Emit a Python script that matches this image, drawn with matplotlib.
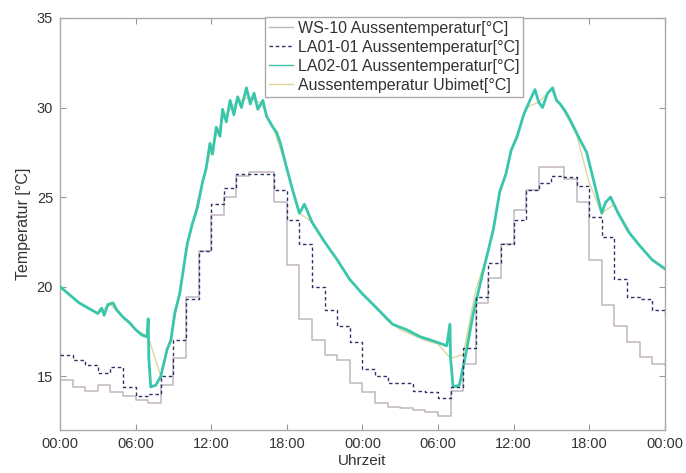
import matplotlib
matplotlib.use('Agg')
import matplotlib.pyplot as plt

# hourly step values (start of each hour, 0..48 h)
hours = list(range(49))
ws10 = [14.8, 14.4, 14.2, 14.5, 14.1, 13.9, 13.7, 13.5, 14.5, 16.0,
        19.4, 22.0, 24.0, 25.0, 26.2, 26.4, 26.4, 24.7, 21.2, 18.2,
        17.0, 16.2, 15.9, 14.6, 14.1, 13.5, 13.3, 13.2, 13.1, 13.0,
        12.8, 14.2, 15.7, 19.1, 20.5, 22.4, 24.3, 25.4, 26.7, 26.7,
        26.0, 24.7, 21.5, 19.0, 17.8, 16.9, 16.1, 15.7, 15.6]
la01 = [16.2, 15.9, 15.6, 15.2, 15.5, 14.4, 13.9, 14.0, 15.0, 17.0,
        19.3, 22.0, 24.6, 25.5, 26.3, 26.3, 26.3, 25.4, 23.7, 22.4,
        20.0, 18.7, 17.8, 16.9, 15.4, 15.0, 14.6, 14.6, 14.2, 14.1,
        13.8, 14.4, 16.6, 19.4, 21.3, 22.4, 23.7, 25.4, 25.8, 26.2,
        26.1, 25.6, 23.9, 22.8, 20.4, 19.4, 19.3, 18.7, 18.5]
ubimet = [20.0, 19.4, 18.9, 18.5, 19.0, 18.3, 17.6, 17.2, 15.0, 17.8,
          21.9, 25.0, 27.7, 29.5, 30.3, 30.6, 30.2, 28.7, 26.6, 24.1,
          23.6, 22.5, 21.5, 20.4, 19.6, 18.9, 18.1, 17.6, 17.3, 17.0,
          16.8, 16.0, 16.2, 19.8, 22.0, 25.4, 28.0, 30.0, 30.3, 31.0,
          29.8, 28.5, 25.8, 24.1, 24.6, 23.1, 22.3, 21.5, 21.0]

# LA02-01 read at irregular times (hours)
la02_t = [0, 0.5, 1, 1.5, 2, 2.5, 3, 3.3, 3.5, 3.8, 4.2, 4.5, 5, 5.5, 6, 6.5, 6.9,
          7.0, 7.05, 7.2, 7.6, 8.0, 8.5, 8.8, 9.1, 9.5, 10.1, 10.5, 10.9, 11.3,
          11.6, 11.9, 12.1, 12.4, 12.7, 12.9, 13.2, 13.5, 13.8, 14.1, 14.4, 14.8,
          15.1, 15.4, 15.7, 16.1, 16.4, 16.9, 17.2, 17.5, 18.0, 18.5, 19.0, 19.4,
          20.0, 21.0, 22.0, 23.0, 24.0, 25.0, 26.4, 27.5, 28.6, 29.5, 30.7, 30.95,
          31.0, 31.2, 31.7, 32.2, 32.8, 33.6, 34.4, 34.9, 35.4, 35.8, 36.3, 36.8,
          37.3, 37.7, 38.0, 38.3, 38.7, 39.1, 39.4, 39.7, 40.1, 40.5, 41.2, 41.8,
          42.4, 43.0, 43.3, 43.7, 44.3, 45.2, 46.0, 47.0, 48.0]
la02 = [20.0, 19.7, 19.4, 19.1, 18.9, 18.7, 18.5, 18.8, 18.4, 19.0, 19.1, 18.7,
        18.3, 18.0, 17.6, 17.3, 17.2, 18.2, 16.0, 14.4, 14.5, 15.0, 16.5, 17.0,
        18.5, 19.6, 22.4, 23.5, 24.4, 25.8, 26.6, 28.0, 27.4, 28.9, 28.4, 29.9,
        29.2, 30.4, 29.6, 30.6, 30.0, 31.1, 30.2, 30.8, 29.9, 30.4, 29.5, 28.9,
        28.6, 28.0, 26.6, 25.3, 24.1, 24.6, 23.6, 22.5, 21.5, 20.4, 19.6, 18.9,
        17.9, 17.6, 17.2, 17.0, 16.7, 17.9, 16.0, 14.4, 14.5, 16.2, 18.5, 20.9,
        23.2, 25.3, 26.3, 27.6, 28.4, 29.6, 30.4, 31.0, 30.3, 30.0, 30.8, 31.1,
        30.4, 30.2, 29.8, 29.3, 28.3, 27.5, 25.8, 24.1, 24.7, 25.0, 24.1, 23.0,
        22.3, 21.5, 21.0]

xticks = [0, 6, 12, 18, 24, 30, 36, 42, 48]
xticklabels = ['00:00', '06:00', '12:00', '18:00', '00:00', '06:00', '12:00', '18:00', '00:00']
yticks = [15, 20, 25, 30, 35]

plt.rcParams['font.family'] = ['Liberation Sans', 'DejaVu Sans']

fig = plt.figure(figsize=(6.86, 4.73), dpi=100)
ax = fig.add_axes([0.0875, 0.091, 0.8815, 0.871])

ax.plot(hours, ubimet, color='#ddd79a', linewidth=1.0, label='Aussentemperatur Ubimet[°C]', zorder=1)
ax.plot(hours, ws10, color='#c2b6c0', linewidth=1.1, drawstyle='steps-post',
        label='WS-10 Aussentemperatur[°C]', zorder=2)
ax.plot(la02_t, la02, color='#38c6ac', linewidth=2.0, label='LA02-01 Aussentemperatur[°C]', zorder=3)
ax.plot(hours, la01, color='#2e3366', linewidth=1.0, linestyle=(0, (2.5, 2)),
        drawstyle='steps-post', label='LA01-01 Aussentemperatur[°C]', zorder=4)

ax.set_xlim(0, 48)
ax.set_ylim(12, 35)
ax.set_xticks(xticks)
ax.set_xticklabels(xticklabels)
ax.set_yticks(yticks)
ax.tick_params(direction='in', top=True, right=True, length=4, color='#999999',
               labelsize=10.5, labelcolor='#333333', pad=5)
for s in ax.spines.values():
    s.set_color('#aaaaaa')
    s.set_linewidth(1.0)

ax.set_xlabel('Uhrzeit', fontsize=11, color='#333333', labelpad=2)
ax.set_ylabel('Temperatur [°C]', fontsize=11.5, color='#333333', labelpad=4)

handles, labels = ax.get_legend_handles_labels()
order = [1, 3, 2, 0]
leg = ax.legend([handles[i] for i in order], [labels[i] for i in order],
                loc='upper left', bbox_to_anchor=(0.339, 1.003), fontsize=11.5,
                frameon=True, fancybox=False, framealpha=1, edgecolor='#aaaaaa',
                handlelength=1.5, handletextpad=0.3, borderpad=0.25, labelspacing=0.25,
                borderaxespad=0)
for t in leg.get_texts():
    t.set_color('#333333')
for h in leg.get_lines():
    h.set_linewidth(1.0)

fig.savefig('out.png', dpi=100)
